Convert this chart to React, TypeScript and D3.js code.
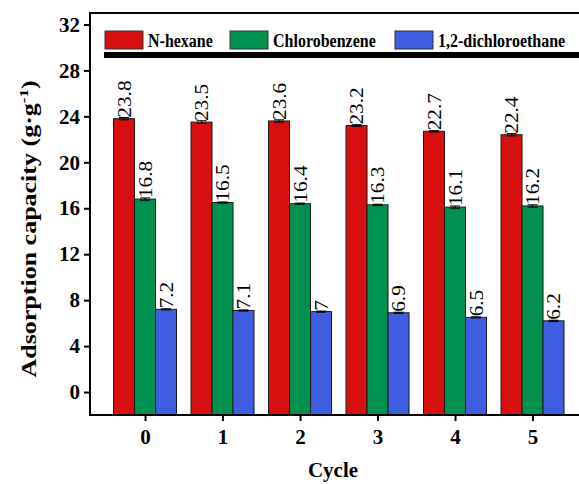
import React, { useEffect, useRef } from "react";
import * as d3 from "d3";

const cycles = [0, 1, 2, 3, 4, 5];
const seriesNames = ["N-hexane", "Chlorobenzene", "1,2-dichloroethane"];
const hexane = [23.8, 23.5, 23.6, 23.2, 22.7, 22.4];
const chlorobenzene = [16.8, 16.5, 16.4, 16.3, 16.1, 16.2];
const dichloroethane = [7.2, 7.1, 7, 6.9, 6.5, 6.2];
const hexaneErr = [0.1, 0.12, 0.1, 0.08, 0.06, 0.1];
const chloroErr = [0.1, 0.05, 0.05, 0.05, 0.1, 0.1];
const dichloroErr = [0.05, 0.05, 0.05, 0.05, 0.05, 0.05];
const yTicks = [0, 4, 8, 12, 16, 20, 24, 28, 32];
const colors = ["#d7100f", "#00914f", "#3f5de0"];

const App = () => {
  const svgRef = useRef<SVGSVGElement>(null);

  useEffect(() => {
    const svg = d3.select(svgRef.current);
    svg.selectAll("*").remove();

    const left = 90;
    const right = 620;
    const top = 13;
    const bottom = 415;
    const font = "'Liberation Serif', 'Times New Roman', serif";

    // x in cycle units, 0 sits at 145px and 5 at 532px
    const x = d3.scaleLinear().domain([-0.71, 5.29]).range([left, 555]);
    const y = d3.scaleLinear().domain([-2, 33]).range([bottom, top]);
    const barW = 21;

    const series = [
      { name: seriesNames[0], values: hexane, errs: hexaneErr },
      { name: seriesNames[1], values: chlorobenzene, errs: chloroErr },
      { name: seriesNames[2], values: dichloroethane, errs: dichloroErr },
    ];

    // bars
    series.forEach((s, si) => {
      const g = svg.append("g");
      const offset = (si - 1) * barW;
      g.selectAll("rect")
        .data(s.values)
        .join("rect")
        .attr("x", (d, i) => x(cycles[i]) + offset - barW / 2)
        .attr("y", (d) => y(d))
        .attr("width", barW)
        .attr("height", (d) => y(-2) - y(d))
        .attr("fill", colors[si])
        .attr("stroke", "#1a1a1a")
        .attr("stroke-width", 1);

      // error caps
      s.values.forEach((v, i) => {
        const cx = x(cycles[i]) + offset;
        const e = s.errs[i];
        g.append("line")
          .attr("x1", cx).attr("x2", cx)
          .attr("y1", y(v + e)).attr("y2", y(v - e))
          .attr("stroke", "#000").attr("stroke-width", 1);
        [v + e, v - e].forEach((ev) => {
          g.append("line")
            .attr("x1", cx - 5).attr("x2", cx + 5)
            .attr("y1", y(ev)).attr("y2", y(ev))
            .attr("stroke", "#000").attr("stroke-width", 1);
        });
      });

      // value labels, rotated and a little stretched along their length
      g.selectAll("text")
        .data(s.values)
        .join("text")
        .attr("transform", (d, i) => {
          const cx = x(cycles[i]) + offset + 6.5;
          return `translate(${cx},${y(d) - 1}) rotate(-90) scale(1.12,1)`;
        })
        .attr("font-family", font)
        .attr("font-size", 19)
        .attr("text-anchor", "start")
        .text((d) => String(d));
    });

    // axes
    const yAxis = svg
      .append("g")
      .attr("transform", `translate(${left},0)`)
      .call(d3.axisLeft(y).tickValues(yTicks).tickSize(6).tickPadding(4));
    yAxis.select(".domain").remove();
    yAxis.selectAll("line").attr("stroke", "#000").attr("stroke-width", 2);
    yAxis
      .selectAll("text")
      .attr("font-family", font)
      .attr("font-size", 21)
      .attr("font-weight", "bold")
      .attr("fill", "#000");

    const xAxis = svg
      .append("g")
      .attr("transform", `translate(0,${bottom})`)
      .call(d3.axisBottom(x).tickValues(cycles).tickFormat(d3.format("d")).tickSize(6).tickPadding(8));
    xAxis.select(".domain").remove();
    xAxis.selectAll("line").attr("stroke", "#000").attr("stroke-width", 2);
    xAxis
      .selectAll("text")
      .attr("font-family", font)
      .attr("font-size", 21)
      .attr("font-weight", "bold")
      .attr("fill", "#000");

    // frame (open on the right, the plot runs past the window)
    svg.append("path")
      .attr("d", `M${right},${top}H${left}V${bottom}H${right}`)
      .attr("fill", "none")
      .attr("stroke", "#000")
      .attr("stroke-width", 2);

    // legend
    const legendX = [105, 230, 395];
    series.forEach((s, si) => {
      svg.append("rect")
        .attr("x", legendX[si]).attr("y", 31)
        .attr("width", 38).attr("height", 18)
        .attr("fill", colors[si])
        .attr("stroke", "#333")
        .attr("stroke-width", 1);
      svg.append("text")
        .attr("transform", `translate(${legendX[si] + 43},47) scale(1,1.15)`)
        .attr("font-family", font)
        .attr("font-size", 16)
        .attr("font-weight", "bold")
        .text(s.name);
    });
    svg.append("rect")
      .attr("x", 104).attr("y", 52)
      .attr("width", 520).attr("height", 6)
      .attr("fill", "#000");

    // axis titles
    svg.append("text")
      .attr("x", 333).attr("y", 477)
      .attr("text-anchor", "middle")
      .attr("font-family", font)
      .attr("font-size", 21)
      .attr("font-weight", "bold")
      .text("Cycle");

    const yt = svg.append("text")
      .attr("transform", `translate(36,229) rotate(-90) scale(1.3,1)`)
      .attr("text-anchor", "middle")
      .attr("font-family", font)
      .attr("font-size", 20)
      .attr("font-weight", "bold");
    yt.append("tspan").text("Adsorption capacity (g\u00b7g");
    yt.append("tspan").attr("dy", -8).attr("font-size", 13).text("-1");
    yt.append("tspan").attr("dy", 8).text(")");
  }, []);

  return (
    <svg
      ref={svgRef}
      width={579}
      height={484}
      style={{ position: "absolute", left: 0, top: 0 }}
    />
  );
};

export default App;
